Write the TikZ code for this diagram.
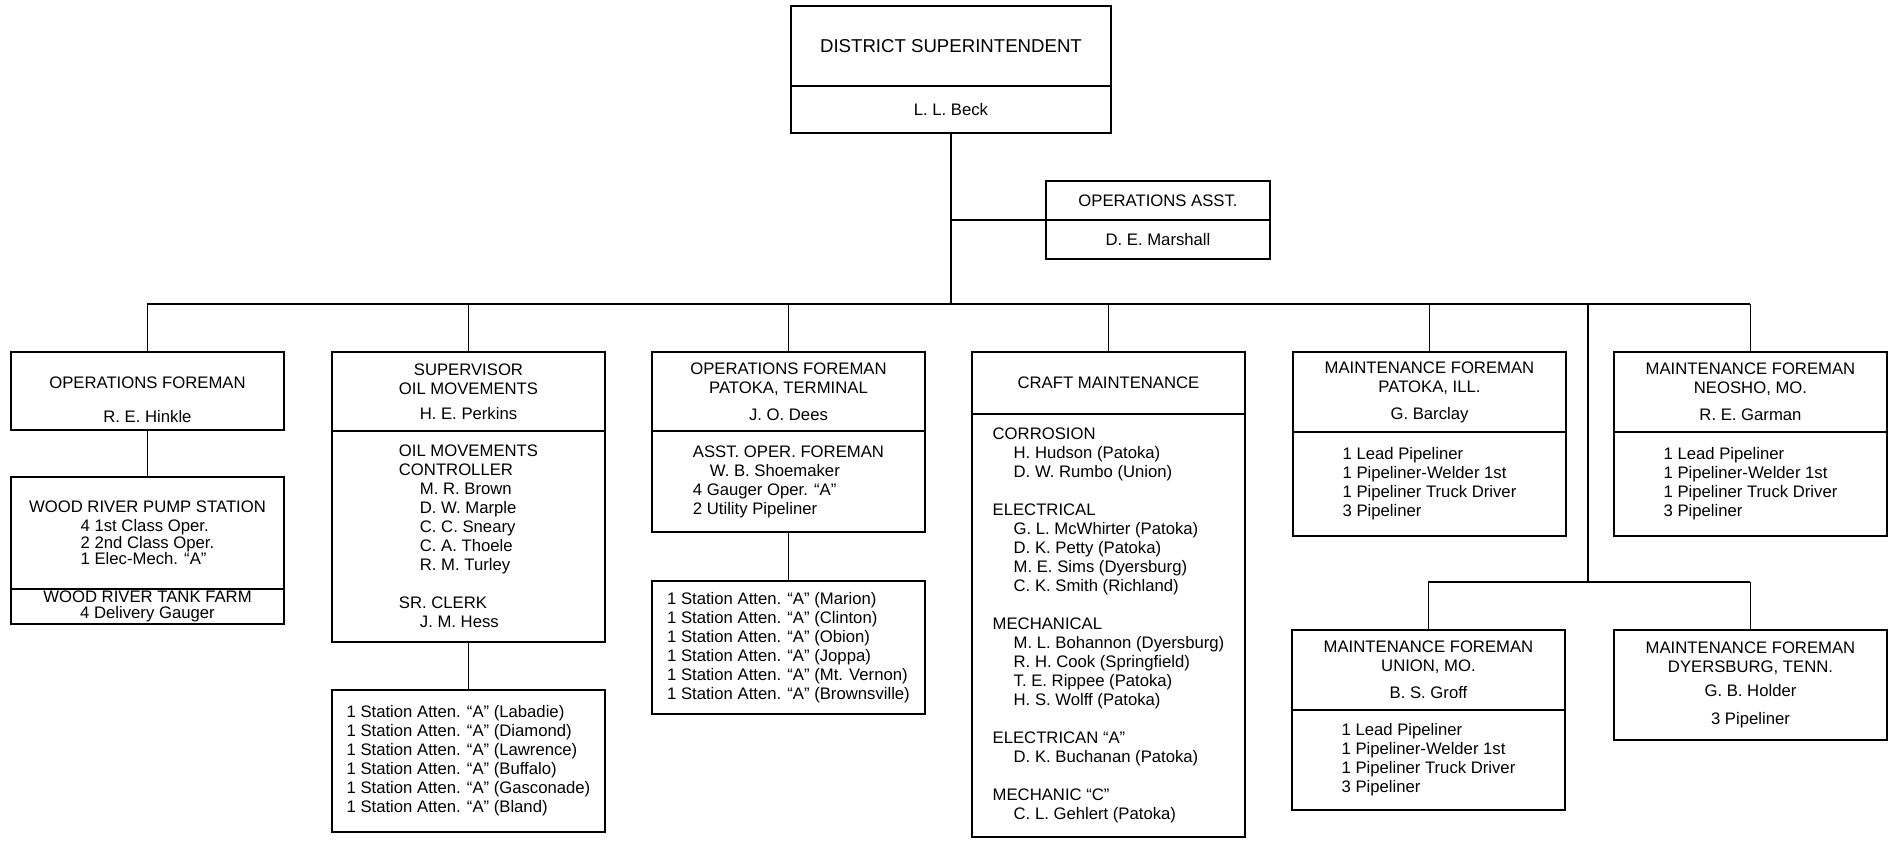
\documentclass[tikz,border=0pt]{standalone}
\usepackage{fontspec}
\setmainfont{Liberation Sans}
\usetikzlibrary{positioning}

\tikzset{
	post/.style={draw, line width=0.9pt, inner sep=0pt, outer sep=0pt, minimum width=5.46cm, align=center, font=\fontsize{9.5}{10.8}\selectfont},
	list/.style={post, align=left},
	drop/.style={line width=0.7pt},
	bus/.style={line width=1.3pt},
}
\newcommand{\indnt}{\hspace*{0.42cm}}

\begin{document}
\begin{tikzpicture}[x=0.02cm, y=-0.02cm]
				\useasboundingbox (0,0) rectangle (1889,840);
				\node[post, anchor=north west, minimum width=6.4cm, minimum height=1.6cm, font=\fontsize{10.6}{12}\selectfont] (supT) at (791,6) {DISTRICT SUPERINTENDENT};
				\node[post, below=0pt of supT, minimum width=6.4cm, minimum height=0.94cm] (supN) {L. L. Beck};
				\node[post, anchor=north west, minimum width=4.48cm, minimum height=0.78cm] (asstT) at (1046,181) {OPERATIONS ASST.};
				\node[post, below=0pt of asstT, minimum width=4.48cm, minimum height=0.78cm] (asstN) {D. E. Marshall};

				\node[post, anchor=north west, minimum height=1.56cm] (hink) at (11,352) {\rule{0pt}{17pt}OPERATIONS FOREMAN\\[8.5pt]R. E. Hinkle};
				\node[post, below=0.94cm of hink, minimum height=2.24cm] (woodP) {WOOD RIVER PUMP STATION\\\vtop{\baselineskip=9.4pt\hbox{4 1st Class Oper.}\hbox{2 2nd Class Oper.}\hbox{1 Elec-Mech. ``A''}}};
				\node[post, below=0pt of woodP, minimum height=0.7cm, font=\fontsize{9.5}{9.1}\selectfont] (woodT) {WOOD RIVER TANK FARM\\4 Delivery Gauger};

				\node[post, anchor=north west, minimum height=1.58cm] (supvT) at (332,352) {SUPERVISOR\\OIL MOVEMENTS\\[3.4pt]H. E. Perkins};
				\node[list, below=0pt of supvT, minimum height=4.22cm] (supvB) {OIL MOVEMENTS\\CONTROLLER\\\indnt M. R. Brown\\\indnt D. W. Marple\\\indnt C. C. Sneary\\\indnt C. A. Thoele\\\indnt R. M. Turley\\[11pt]SR. CLERK\\\indnt J. M. Hess};
				\node[list, below=0.96cm of supvB, minimum height=2.84cm] (statA) {1 Station Atten. ``A'' (Labadie)\\1 Station Atten. ``A'' (Diamond)\\1 Station Atten. ``A'' (Lawrence)\\1 Station Atten. ``A'' (Buffalo)\\1 Station Atten. ``A'' (Gasconade)\\1 Station Atten. ``A'' (Bland)};

				\node[post, anchor=north west, minimum height=1.58cm] (termT) at (652,352) {OPERATIONS FOREMAN\\PATOKA, TERMINAL\\[4.5pt]J. O. Dees};
				\node[list, below=0pt of termT, minimum height=2.02cm] (termB) {ASST. OPER. FOREMAN\\\hspace*{0.34cm}W. B. Shoemaker\\4 Gauger Oper. ``A''\\2 Utility Pipeliner};
				\node[list, below=0.98cm of termB, minimum height=2.66cm] (statB) {1 Station Atten. ``A'' (Marion)\\1 Station Atten. ``A'' (Clinton)\\1 Station Atten. ``A'' (Obion)\\1 Station Atten. ``A'' (Joppa)\\1 Station Atten. ``A'' (Mt. Vernon)\\1 Station Atten. ``A'' (Brownsville)};

				\node[post, anchor=north west, minimum height=1.24cm] (craftT) at (972,352) {CRAFT MAINTENANCE};
				\node[list, below=0pt of craftT, minimum height=8.46cm] (craftB) {CORROSION\\\indnt H. Hudson (Patoka)\\\indnt D. W. Rumbo (Union)\\[10.8pt]ELECTRICAL\\\indnt G. L. McWhirter (Patoka)\\\indnt D. K. Petty (Patoka)\\\indnt M. E. Sims (Dyersburg)\\\indnt C. K. Smith (Richland)\\[10.8pt]MECHANICAL\\\indnt M. L. Bohannon (Dyersburg)\\\indnt R. H. Cook (Springfield)\\\indnt T. E. Rippee (Patoka)\\\indnt H. S. Wolff (Patoka)\\[10.8pt]ELECTRICAN ``A''\\\indnt D. K. Buchanan (Patoka)\\[10.8pt]MECHANIC ``C''\\\indnt C. L. Gehlert (Patoka)};

				\node[post, anchor=north west, minimum height=1.6cm] (mfpatT) at (1293,352) {MAINTENANCE FOREMAN\\PATOKA, ILL.\\[4.5pt]G. Barclay};
				\node[list, below=0pt of mfpatT, minimum height=2.08cm] (mfpatB) {1 Lead Pipeliner\\1 Pipeliner-Welder 1st\\1 Pipeliner Truck Driver\\3 Pipeliner};
				\node[post, anchor=north west, minimum height=1.6cm] (mfneoT) at (1614,352) {MAINTENANCE FOREMAN\\NEOSHO, MO.\\[4.5pt]R. E. Garman};
				\node[list, below=0pt of mfneoT, minimum height=2.08cm] (mfneoB) {1 Lead Pipeliner\\1 Pipeliner-Welder 1st\\1 Pipeliner Truck Driver\\3 Pipeliner};
				\node[post, anchor=north west, minimum height=1.6cm] (mfuniT) at (1292,630) {MAINTENANCE FOREMAN\\UNION, MO.\\[4.5pt]B. S. Groff};
				\node[list, below=0pt of mfuniT, minimum height=2.0cm] (mfuniB) {1 Lead Pipeliner\\1 Pipeliner-Welder 1st\\1 Pipeliner Truck Driver\\3 Pipeliner};
				\node[post, anchor=north west, minimum height=2.2cm] (mfdye) at (1614,630) {MAINTENANCE FOREMAN\\DYERSBURG, TENN.\\[2.8pt]G. B. Holder\\[5pt]3 Pipeliner};

				\coordinate (bus) at (0,304);
				\coordinate (split) at (1588,304);
				\coordinate (split2) at (1588,582);
				\draw[drop] (supN.south) -- (supN.south |- bus);
				\draw[bus] (supN.south |- asstT.south west) -- (asstT.south west);
				\draw[bus] (hink.north |- bus) -- (mfneoT.north |- bus);
				\foreach \n in {hink, supvT, termT, craftT, mfpatT, mfneoT}
					\draw[drop] (\n.north |- bus) -- (\n.north);
				\draw[drop] (hink.south) -- (woodP.north);
				\draw[drop] (supvB.south) -- (statA.north);
				\draw[drop] (termB.south) -- (statB.north);
				\draw[drop] (split) -- (split2);
				\draw[bus] (mfuniT.north |- split2) -- (mfdye.north |- split2);
				\draw[drop] (mfuniT.north |- split2) -- (mfuniT.north);
				\draw[drop] (mfdye.north |- split2) -- (mfdye.north);
		\end{tikzpicture}
\end{document}
